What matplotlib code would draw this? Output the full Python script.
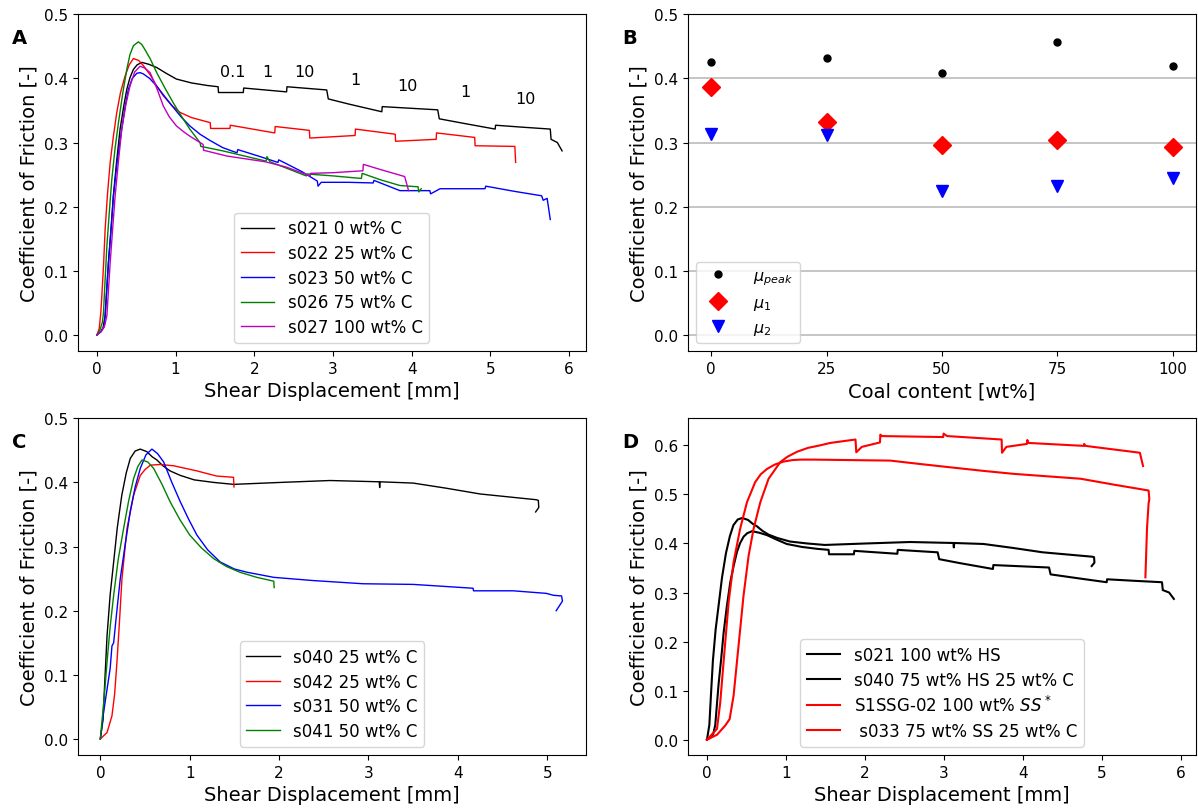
import matplotlib
matplotlib.use("Agg")
import matplotlib.pyplot as plt

# ---- Panel A: velocity-stepping runs, HS/coal mixtures ----
a_s021_x = [0, 0.05, 0.08, 0.105, 0.125, 0.147, 0.18, 0.21, 0.25, 0.295, 0.34, 0.38, 0.42, 0.464, 0.51,
            0.57, 0.66, 0.76, 0.88, 1.01, 1.2, 1.4, 1.54, 1.545, 1.86, 1.865, 2.41, 2.415, 2.92, 2.94,
            3.20, 3.62, 3.625, 4.33, 4.35, 4.70, 5.06, 5.065, 5.40, 5.76, 5.77, 5.85, 5.91]
a_s021_y = [0, 0.005, 0.012, 0.03, 0.07, 0.113, 0.165, 0.217, 0.27, 0.321, 0.356, 0.383, 0.401, 0.414, 0.421,
            0.425, 0.422, 0.417, 0.408, 0.399, 0.393, 0.389, 0.387, 0.378, 0.378, 0.385, 0.379, 0.387, 0.382, 0.368,
            0.360, 0.348, 0.356, 0.351, 0.337, 0.329, 0.321, 0.327, 0.324, 0.321, 0.305, 0.300, 0.287]

a_s022_x = [0, 0.03, 0.05, 0.063, 0.085, 0.105, 0.135, 0.169, 0.21, 0.253, 0.30, 0.359, 0.41, 0.464, 0.53,
            0.59, 0.68, 0.76, 0.844, 0.95, 1.056, 1.2, 1.44, 1.445, 1.69, 1.695, 2.26, 2.265, 2.70, 2.705,
            3.28, 3.285, 3.79, 3.795, 4.31, 4.315, 4.80, 4.805, 5.31, 5.32]
a_s022_y = [0, 0.01, 0.035, 0.061, 0.11, 0.165, 0.22, 0.269, 0.31, 0.347, 0.378, 0.404, 0.421, 0.431, 0.428,
            0.42, 0.405, 0.388, 0.373, 0.358, 0.347, 0.339, 0.331, 0.322, 0.322, 0.327, 0.315, 0.325, 0.319, 0.307,
            0.311, 0.321, 0.313, 0.302, 0.305, 0.315, 0.308, 0.295, 0.294, 0.269]

a_s023_x = [0, 0.05, 0.09, 0.105, 0.125, 0.147, 0.18, 0.21, 0.26, 0.316, 0.36, 0.40, 0.45, 0.507, 0.55,
            0.59, 0.67, 0.76, 0.86, 0.97, 1.07, 1.18, 1.31, 1.44, 1.60, 1.78, 1.79, 2.05, 2.30, 2.31,
            2.60, 2.80, 2.81, 2.85, 3.20, 3.51, 3.52, 3.85, 4.23, 4.24, 4.36, 4.93, 4.94, 5.30, 5.65, 5.67,
            5.72, 5.76]
a_s023_y = [0, 0.005, 0.012, 0.03, 0.07, 0.113, 0.165, 0.217, 0.272, 0.321, 0.357, 0.383, 0.40, 0.408, 0.409,
            0.407, 0.40, 0.388, 0.372, 0.355, 0.34, 0.326, 0.313, 0.303, 0.292, 0.284, 0.289, 0.279, 0.269, 0.273,
            0.255, 0.240, 0.232, 0.238, 0.238, 0.237, 0.241, 0.225, 0.225, 0.220, 0.228, 0.228, 0.232, 0.224, 0.217, 0.210,
            0.213, 0.180]

a_s026_x = [0, 0.04, 0.07, 0.084, 0.10, 0.127, 0.16, 0.19, 0.23, 0.274, 0.33, 0.38, 0.42, 0.464, 0.527,
            0.57, 0.61, 0.68, 0.76, 0.86, 0.97, 1.08, 1.18, 1.31, 1.32, 1.60, 2.15, 2.16, 2.20, 2.66,
            2.67, 3.00, 3.36, 3.37, 3.60, 3.85, 4.08, 4.09, 4.12]
a_s026_y = [0, 0.008, 0.02, 0.035, 0.075, 0.139, 0.195, 0.243, 0.29, 0.331, 0.378, 0.414, 0.437, 0.451, 0.457,
            0.453, 0.445, 0.43, 0.409, 0.386, 0.362, 0.34, 0.321, 0.300, 0.294, 0.287, 0.271, 0.278, 0.270, 0.248,
            0.251, 0.248, 0.244, 0.252, 0.242, 0.233, 0.231, 0.223, 0.228]

a_s027_x = [0, 0.06, 0.10, 0.127, 0.147, 0.169, 0.20, 0.232, 0.275, 0.316, 0.37, 0.42, 0.48, 0.549, 0.61,
            0.676, 0.76, 0.844, 0.92, 1.01, 1.10, 1.18, 1.35, 1.355, 1.65, 2.14, 2.40, 2.71, 2.715, 3.00,
            3.38, 3.385, 3.60, 3.91, 3.96]
a_s027_y = [0, 0.006, 0.015, 0.03, 0.07, 0.113, 0.165, 0.217, 0.272, 0.321, 0.36, 0.388, 0.41, 0.419, 0.416,
            0.409, 0.385, 0.357, 0.34, 0.326, 0.317, 0.310, 0.297, 0.288, 0.279, 0.270, 0.262, 0.248, 0.252, 0.253,
            0.256, 0.266, 0.258, 0.247, 0.225]

# velocity step annotations (um/s)
step_labels = ["0.1", "1", "10", "1", "10", "1", "10"]
step_label_x = [1.73, 2.16, 2.64, 3.28, 3.95, 4.68, 5.45]
step_label_y = [0.41, 0.41, 0.41, 0.399, 0.389, 0.380, 0.369]

# ---- Panel B: friction coefficients vs coal content ----
coal_content = [0, 25, 50, 75, 100]
mu_peak = [0.425, 0.432, 0.408, 0.457, 0.419]
mu_1 = [0.386, 0.332, 0.296, 0.304, 0.293]
mu_2 = [0.314, 0.311, 0.225, 0.232, 0.245]

# ---- Panel C: constant velocity runs ----
c_s040_x = [0, 0.03, 0.05, 0.075, 0.11, 0.149, 0.19, 0.24, 0.29, 0.335, 0.39, 0.447, 0.52, 0.58, 0.633,
            0.70, 0.78, 0.894, 1.05, 1.27, 1.49, 2.01, 2.57, 3.12, 3.125, 3.13, 3.50, 3.87, 4.25, 4.88,
            4.90, 4.905, 4.87]
c_s040_y = [0, 0.03, 0.09, 0.161, 0.225, 0.276, 0.33, 0.38, 0.415, 0.4375, 0.449, 0.452, 0.448, 0.44, 0.435,
            0.426, 0.418, 0.411, 0.404, 0.400, 0.397, 0.400, 0.403, 0.401, 0.392, 0.401, 0.399, 0.391, 0.382, 0.373,
            0.372, 0.361, 0.354]

c_s042_x = [0, 0.075, 0.13, 0.16, 0.186, 0.215, 0.242, 0.298, 0.372, 0.447, 0.50, 0.559, 0.67, 0.82, 0.95,
            1.08, 1.30, 1.49, 1.495]
c_s042_y = [0, 0.01, 0.036, 0.07, 0.12, 0.185, 0.25, 0.328, 0.38, 0.411, 0.42, 0.427, 0.428, 0.426, 0.422,
            0.418, 0.410, 0.408, 0.393]

c_s031_x = [0, 0.037, 0.11, 0.13, 0.149, 0.185, 0.223, 0.28, 0.335, 0.39, 0.447, 0.51, 0.577, 0.64, 0.708,
            0.80, 0.894, 0.99, 1.08, 1.20, 1.34, 1.50, 1.64, 1.94, 2.38, 2.94, 3.50, 4.17, 4.175, 4.62,
            4.99, 5.07, 5.16, 5.17, 5.10]
c_s031_y = [0, 0.042, 0.11, 0.145, 0.15, 0.20, 0.25, 0.305, 0.355, 0.393, 0.422, 0.443, 0.452, 0.445, 0.432,
            0.40, 0.37, 0.342, 0.318, 0.295, 0.276, 0.265, 0.26, 0.252, 0.247, 0.242, 0.241, 0.235, 0.231, 0.231,
            0.227, 0.224, 0.223, 0.215, 0.200]

c_s041_x = [0, 0.04, 0.075, 0.11, 0.149, 0.20, 0.26, 0.315, 0.372, 0.42, 0.466, 0.53, 0.596, 0.69, 0.78,
            0.89, 1.0, 1.13, 1.27, 1.41, 1.56, 1.75, 1.94, 1.945]
c_s041_y = [0, 0.06, 0.12, 0.175, 0.224, 0.28, 0.328, 0.37, 0.406, 0.425, 0.435, 0.432, 0.422, 0.397, 0.37,
            0.342, 0.318, 0.298, 0.281, 0.269, 0.26, 0.252, 0.246, 0.236]

# ---- Panel D: HS vs SS, with and without coal ----
d_s1ssg_x = [0, 0.127, 0.168, 0.21, 0.274, 0.337, 0.42, 0.506, 0.61, 0.68, 0.76, 0.86, 0.97, 1.08, 1.18,
             1.35, 2.32, 2.70, 3.04, 3.50, 3.88, 4.73, 5.15, 5.59, 5.60, 5.59, 5.57, 5.55]
d_s1ssg_y = [0, 0.022, 0.076, 0.158, 0.28, 0.362, 0.43, 0.484, 0.525, 0.541, 0.552, 0.561, 0.567, 0.570, 0.571,
             0.571, 0.569, 0.562, 0.556, 0.548, 0.542, 0.532, 0.520, 0.508, 0.491, 0.481, 0.43, 0.331]

d_s033_x = [0, 0.127, 0.232, 0.287, 0.337, 0.40, 0.463, 0.527, 0.59, 0.675, 0.78, 0.928, 1.02, 1.14, 1.28,
            1.43, 1.56, 1.88, 1.89, 1.96, 2.19, 2.195, 2.21, 2.99, 2.995, 3.04, 3.73, 3.735, 3.79, 4.05,
            4.055, 4.07, 4.77, 4.775, 4.79, 5.48, 5.52]
d_s033_y = [0, 0.01, 0.029, 0.042, 0.09, 0.192, 0.294, 0.375, 0.43, 0.484, 0.532, 0.566, 0.577, 0.587, 0.595,
            0.600, 0.605, 0.612, 0.586, 0.597, 0.606, 0.622, 0.619, 0.617, 0.624, 0.619, 0.612, 0.585, 0.597, 0.603,
            0.611, 0.605, 0.599, 0.603, 0.599, 0.585, 0.558]

TICK_FS = 11
LABEL_FS = 14
LEGEND_FS = 12

fig = plt.figure(figsize=(11.98, 8.12), dpi=100)
ax_a = fig.add_axes([0.0651, 0.5665, 0.4238, 0.4147])
ax_b = fig.add_axes([0.5743, 0.5665, 0.4240, 0.4147])
ax_c = fig.add_axes([0.0651, 0.0690, 0.4238, 0.4146])
ax_d = fig.add_axes([0.5743, 0.0690, 0.4240, 0.4146])

# A
ax_a.plot(a_s021_x, a_s021_y, color="k", lw=1.0, label="s021 0 wt% C")
ax_a.plot(a_s022_x, a_s022_y, color="r", lw=1.0, label="s022 25 wt% C")
ax_a.plot(a_s023_x, a_s023_y, color="b", lw=1.0, label="s023 50 wt% C")
ax_a.plot(a_s026_x, a_s026_y, color="g", lw=1.0, label="s026 75 wt% C")
ax_a.plot(a_s027_x, a_s027_y, color="m", lw=1.0, label="s027 100 wt% C")
for txt, x, y in zip(step_labels, step_label_x, step_label_y):
    ax_a.text(x, y, txt, ha="center", va="center", fontsize=11.5)
ax_a.set_xlim(-0.24, 6.21)
ax_a.set_ylim(-0.025, 0.5)
ax_a.set_xticks([0, 1, 2, 3, 4, 5, 6])
ax_a.set_xlabel("Shear Displacement [mm]", fontsize=LABEL_FS)
ax_a.legend(loc="lower center", fontsize=LEGEND_FS, labelspacing=0.4)

# B
ax_b.plot(coal_content, mu_peak, "o", color="k", ms=5, label=r"$\mu_{peak}$")
ax_b.plot(coal_content, mu_1, "D", color="r", ms=9, label=r"$\mu_1$")
ax_b.plot(coal_content, mu_2, "v", color="b", ms=9, label=r"$\mu_2$")
ax_b.yaxis.grid(True, color="#c0c0c0", lw=1.3)
ax_b.set_axisbelow(True)
ax_b.set_xlim(-5, 105)
ax_b.set_ylim(-0.025, 0.5)
ax_b.set_xticks(coal_content)
ax_b.set_xlabel("Coal content [wt%]", fontsize=LABEL_FS)
ax_b.legend(loc="lower left", fontsize=11.5, handletextpad=1.2)

# C
ax_c.plot(c_s040_x, c_s040_y, color="k", lw=1.0, label="s040 25 wt% C")
ax_c.plot(c_s042_x, c_s042_y, color="r", lw=1.0, label="s042 25 wt% C")
ax_c.plot(c_s031_x, c_s031_y, color="b", lw=1.0, label="s031 50 wt% C")
ax_c.plot(c_s041_x, c_s041_y, color="g", lw=1.0, label="s041 50 wt% C")
ax_c.set_xlim(-0.25, 5.43)
ax_c.set_ylim(-0.025, 0.5)
ax_c.set_xlabel("Shear Displacement [mm]", fontsize=LABEL_FS)
ax_c.legend(loc="lower center", fontsize=LEGEND_FS, labelspacing=0.4)

# D
ax_d.plot(a_s021_x, a_s021_y, color="k", lw=1.5, label="s021 100 wt% HS")
ax_d.plot(c_s040_x, c_s040_y, color="k", lw=1.5, label="s040 75 wt% HS 25 wt% C")
ax_d.plot(d_s033_x, d_s033_y, color="r", lw=1.5, label=r"S1SSG-02 100 wt% $SS^*$")
ax_d.plot(d_s1ssg_x, d_s1ssg_y, color="r", lw=1.5, label=" s033 75 wt% SS 25 wt% C")
ax_d.set_xlim(-0.24, 6.19)
ax_d.set_xticks([0, 1, 2, 3, 4, 5, 6])
ax_d.set_xlabel("Shear Displacement [mm]", fontsize=LABEL_FS)
ax_d.legend(loc="lower center", fontsize=LEGEND_FS, labelspacing=0.4)

for ax, letter in zip([ax_a, ax_b, ax_c, ax_d], "ABCD"):
    ax.set_ylabel("Coefficient of Friction [-]", fontsize=LABEL_FS)
    ax.tick_params(labelsize=TICK_FS)
    ax.text(-0.13, 0.96, letter, transform=ax.transAxes, fontsize=14,
            fontweight="bold", ha="left", va="top")

fig.savefig("out.png", dpi=100)
